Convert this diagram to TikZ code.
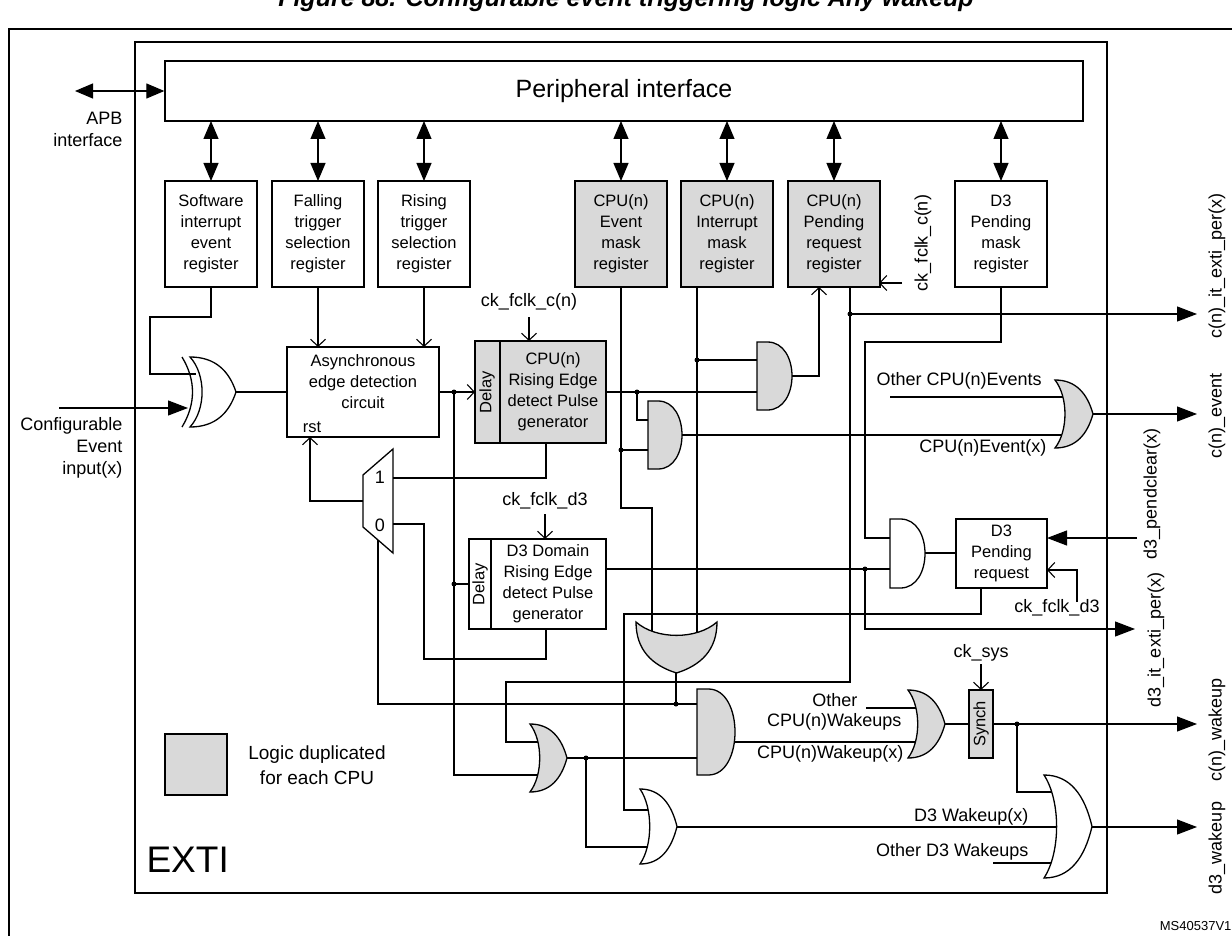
\documentclass[tikz,border=0pt]{standalone}
\usepackage{fontspec}
\setmainfont{Liberation Sans}
\usetikzlibrary{arrows.meta}
\definecolor{dupgray}{RGB}{217,217,217}
\tikzset{
    reg/.style={draw, line width=1.3pt, minimum width=92pt, minimum height=106pt, inner sep=0pt,
                align=center, font=\fontsize{16.5}{21}\selectfont},
    dup/.style={reg, fill=dupgray},
    blk/.style={draw, line width=1.3pt, inner sep=0pt},
    txt/.style={align=center, inner sep=0pt, font=\fontsize{16.5}{21}\selectfont},
    lbl/.style={inner sep=0pt, font=\fontsize{18}{22}\selectfont},
    gate/.style={line width=1.3pt},
    dot/.style={circle, fill, inner sep=0pt, minimum size=5pt},
    big/.style={-{Triangle[length=20pt,width=15pt]}},
    bigboth/.style={{Triangle[length=18pt,width=15pt]}-{Triangle[length=18pt,width=15pt]}},
    open/.style={-{Straight Barb[length=7pt,width=15pt]}},
}
% AND gate: fill, x1, y1, x2, y2
\newcommand{\andg}[5][white]{%
  \pgfmathsetmacro{\ga}{#2+0.3*(#4-#2)}%
  \pgfmathsetmacro{\gc}{\ga+4/3*(#4-\ga)}%
  \draw[gate,fill=#1] (#2,#3) -- (\ga,#3) .. controls (\gc,#3) and (\gc,#5) .. (\ga,#5) -- (#2,#5) -- cycle;}
% OR gate pointing right
\newcommand{\org}[5][white]{%
  \pgfmathsetmacro{\gw}{#4-#2}\pgfmathsetmacro{\gm}{(#3+#5)/2}\pgfmathsetmacro{\gh}{#5-#3}%
  \draw[gate,fill=#1] (#2,#3) .. controls ({#2+0.55*\gw},#3) and ({#4-0.15*\gw},{\gm-0.3*\gh}) .. (#4,\gm)
     .. controls ({#4-0.15*\gw},{\gm+0.3*\gh}) and ({#2+0.55*\gw},#5) .. (#2,#5)
     .. controls ({#2+0.35*\gw},{\gm+0.25*\gh}) and ({#2+0.35*\gw},{\gm-0.25*\gh}) .. cycle;}
% OR gate pointing down
\newcommand{\orgd}[5][white]{%
  \pgfmathsetmacro{\gw}{#4-#2}\pgfmathsetmacro{\gm}{(#2+#4)/2}\pgfmathsetmacro{\gh}{#5-#3}%
  \draw[gate,fill=#1] (#2,#3) .. controls (#2,{#3+0.55*\gh}) and ({\gm-0.3*\gw},{#5-0.15*\gh}) .. (\gm,#5)
     .. controls ({\gm+0.3*\gw},{#5-0.15*\gh}) and (#4,{#3+0.55*\gh}) .. (#4,#3)
     .. controls ({\gm+0.25*\gw},{#3+0.35*\gh}) and ({\gm-0.25*\gw},{#3+0.35*\gh}) .. cycle;}

\begin{document}
\begin{tikzpicture}[x=1pt, y=-1pt, line width=1.1pt]
    \useasboundingbox (0,0) rectangle (1232,936);
    \node[font=\bfseries\itshape\fontsize{25}{28}\selectfont] (title) at (626,0) {Figure 88. Configurable event triggering logic Any wakeup};
    \draw[line width=1.6pt] (9,29) rectangle (1250,960);
    \draw[line width=1.5pt] (135,42) rectangle (1107,893);

    % boxes
    \node[blk, minimum width=918pt, minimum height=60pt, font=\fontsize{25}{28}\selectfont] (per) at (624,91) {Peripheral interface};
    \node[reg] (swr) at (211,234) {Software\\interrupt\\event\\register};
    \node[reg] (ftr) at (318,234) {Falling\\trigger\\selection\\register};
    \node[reg] (rtr) at (424,234) {Rising\\trigger\\selection\\register};
    \node[dup] (emr) at (621,234) {CPU(n)\\Event\\mask\\register};
    \node[dup] (imr) at (727,234) {CPU(n)\\Interrupt\\mask\\register};
    \node[dup] (prr) at (834,234) {CPU(n)\\Pending\\request\\register};
    \node[reg] (dmr) at (1001,234) {D3\\Pending\\mask\\register};
    \foreach \x in {211,318,424,621,727,834,1001}
        \draw[bigboth] (\x,121) -- (\x,181);
    \draw[bigboth] (75,91) -- (per.west);
    \node[lbl, align=right, anchor=east] (apb) at (123,129) {APB\\interface};
    \node[lbl, align=right, anchor=east] (cfg) at (123,448) {Configurable\\Event\\input(x)};

    \node[blk, minimum width=152pt, minimum height=90pt] (asy) at (363,392) {};
    \node[txt] (asyt) at (363,382) {Asynchronous\\edge detection\\circuit};
    \node[lbl, font=\fontsize{16.5}{18}\selectfont] (rst) at (312,427) {rst};

    \node[blk, fill=dupgray, minimum width=131pt, minimum height=102pt] (cre) at (540.5,392) {};
    \draw[gate] (500,341) -- (500,443);
    \node[txt, rotate=90] (cred) at (487,392) {Delay};
    \node[txt] (cret) at (553,392) {CPU(n)\\Rising Edge\\detect Pulse\\generator};
    \node[lbl] (ckc) at (529,302) {ck\_fclk\_c(n)};

    \node[blk, minimum width=137pt, minimum height=90pt] (dre) at (537.5,584) {};
    \draw[gate] (491,539) -- (491,629);
    \node[txt, rotate=90] (dred) at (480,584) {Delay};
    \node[txt] (dret) at (548,584) {D3 Domain\\Rising Edge\\detect Pulse\\generator};
    \node[lbl] (ckd) at (545,501) {ck\_fclk\_d3};

    \node[blk, minimum width=91pt, minimum height=69pt, txt] (dpr) at (1001.5,553.5) {D3\\Pending\\request};
    \node[blk, fill=dupgray, minimum width=24pt, minimum height=68pt] (syn) at (981,724) {};
    \node[txt, rotate=90] (synt) at (981,724) {Synch};
    \node[lbl] (cks) at (981,653) {ck\_sys};
    \node[lbl] (ckd2) at (1057,608) {ck\_fclk\_d3};
    \node[lbl, rotate=90] (ckc2) at (923,243) {ck\_fclk\_c(n)};

    % wires
    \draw (211,287) -- (211,317) -- (150,317) -- (150,374) -- (196,374);
    \draw[big] (59,408) -- (188,408);
    \draw (236,392) -- (asy.west);
    \draw[open] (318,287) -- (318,347);
    \draw[open] (424,287) -- (424,347);
    \draw[open] (asy.east) -- (475,392);
    \node[dot] (d1) at (454,392) {};
    \draw (454,392) -- (454,775) -- (540,775);
    \node[dot] (d2) at (454,584) {};
    \draw (454,584) -- (469,584);
    \draw (546,443) -- (546,478) -- (393,478);
    \draw[open] (363,501) -- (310,501) -- (310,437);
    \draw (393,524) -- (424,524) -- (424,659) -- (546,659) -- (546,629);
    \draw (378,540) -- (378,704) -- (697,704);
    \draw[open] (529,317) -- (529,341);
    \draw[open] (545,514) -- (545,539);
    \draw (606,392) -- (757,392);
    \node[dot] (d3) at (637,392) {};
    \draw (637,392) -- (637,420) -- (648,420);
    \draw (621,287) -- (621,508) -- (652,508) -- (652,640);
    \node[dot] (d4) at (621,450) {};
    \draw (621,450) -- (648,450);
    \draw (697,287) -- (697,640);
    \node[dot] (d5) at (697,360) {};
    \draw (697,360) -- (757,360);
    \draw[open] (792,376) -- (819,376) -- (819,287);
    \draw (850,287) -- (850,682) -- (506,682) -- (506,742) -- (540,742);
    \node[dot] (d6) at (850,314) {};
    \draw[big] (850,314) -- (1197,314);
    \draw[open] (902,283) -- (879,283);
    \draw (1001,287) -- (1001,342) -- (865,342) -- (865,538) -- (890,538);
    \draw (606,569) -- (890,569);
    \node[dot] (d7) at (865,569) {};
    \draw[big] (865,569) -- (865,629) -- (1135,629);
    \draw (925,553) -- (dpr.west |- 0,553);
    \draw[big] (1137,538) -- (1047,538);
    \draw[open] (1077,602) -- (1077,570) -- (1047,570);
    \draw (981,588) -- (981,614) -- (624,614) -- (624,810) -- (652,810);
    \draw (676,673) -- (676,704);
    \node[dot] (d8) at (676,704) {};
    \draw (567,758) -- (700,758);
    \node[dot] (d9) at (586,758) {};
    \draw (586,758) -- (586,847) -- (652,847);
    \draw (735,742) -- (918,742);
    \draw (866,708) -- (918,708);
    \draw (945,724) -- (syn.west);
    \draw[open] (981,664) -- (981,690);
    \draw[big] (syn.east) -- (1197,724);
    \node[dot] (d10) at (1017,724) {};
    \draw (1017,724) -- (1017,792) -- (1060,792);
    \draw (677,827) -- (1060,827);
    \draw (993,863) -- (1060,863);
    \draw[big] (1092,827) -- (1197,827);
    \draw (890,397) -- (1066,397);
    \draw (682,435) -- (1066,435);
    \draw[big] (1093,414) -- (1197,414);

    % gates
    \draw[gate] (182,357) .. controls (196,380) and (196,404) .. (182,427);
    \org{190}{357}{236}{427}
    \andg[dupgray]{757}{342}{792}{410}
    \andg[dupgray]{648}{401}{682}{469}
    \org[dupgray]{1055}{380}{1093}{448}
    \andg{890}{519}{925}{588}
    \orgd[dupgray]{636}{622}{717}{673}
    \org[dupgray]{530}{724}{567}{792}
    \andg[dupgray]{697}{689}{735}{775}
    \org{640}{789}{677}{864}
    \org[dupgray]{908}{690}{945}{758}
    \org{1044}{775}{1092}{878}
    \draw[gate] (393,449) -- (393,553) -- (363,527) -- (363,475) -- cycle;
    \node[lbl] (m1) at (380,477) {1};
    \node[lbl] (m0) at (380,525) {0};

    % labels
    \node[lbl, anchor=west] (oev) at (876,381) {Other CPU(n)Events};
    \node[lbl, anchor=east] (cev) at (1047,448) {CPU(n)Event(x)};
    \node[lbl, anchor=east] (oth) at (858,700) {Other};
    \node[lbl, anchor=east] (owk) at (902,722) {CPU(n)Wakeups};
    \node[lbl, anchor=east] (cwk) at (904,754) {CPU(n)Wakeup(x)};
    \node[lbl, anchor=east] (dwk) at (1029,817) {D3 Wakeup(x)};
    \node[lbl, anchor=east] (odw) at (1029,852) {Other D3 Wakeups};
    \node[lbl, rotate=90] (o1) at (1217,266) {c(n)\_it\_exti\_per(x)};
    \node[lbl, rotate=90] (o2) at (1217,416) {c(n)\_event};
    \node[lbl, rotate=90] (o3) at (1152,494) {d3\_pendclear(x)};
    \node[lbl, rotate=90] (o4) at (1156,640) {d3\_it\_exti\_per(x)};
    \node[lbl, rotate=90] (o5) at (1217,730) {c(n)\_wakeup};
    \node[lbl, rotate=90] (o6) at (1217,848) {d3\_wakeup};

    % legend
    \draw[line width=1.3pt, fill=dupgray] (165,734) rectangle (227,795);
    \node[lbl, align=center, font=\fontsize{19}{25}\selectfont] (leg) at (317,765) {Logic duplicated\\for each CPU};
    \node[anchor=west, inner sep=0pt, font=\fontsize{37}{40}\selectfont] (exti) at (146,860) {EXTI};
    \node[anchor=east, inner sep=0pt, font=\fontsize{13}{15}\selectfont] (ms) at (1232,926) {MS40537V1};
\end{tikzpicture}
\end{document}
